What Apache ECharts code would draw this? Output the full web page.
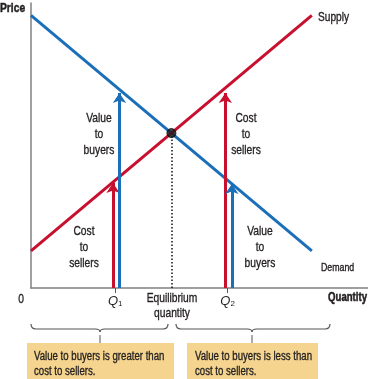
<!DOCTYPE html>
<html>
<head>
<meta charset="utf-8">
<script src="https://cdn.jsdelivr.net/npm/echarts@6/dist/echarts.min.js"></script>
<style>html,body{margin:0;padding:0;background:#fff;}#c{width:368px;height:379px;}</style>
</head>
<body>
<div id="c"></div>
<script>
// ---- data (economic units: quantity on x, price on y) ----
const demandQ = [0, 10];
const demandP = [11, 1.5];
const supplyQ = [0, 10];
const supplyP = [1.5, 11];
const equilibrium = [5, 6.25];
const arrowQ = [3, 7];                 // Q1, Q2
const valueToBuyers = [7.87, 4.2];     // arrow tops under the demand curve at Q1, Q2
const costToSellers = [4.24, 7.87];    // arrow tops under the supply curve at Q1, Q2
const qTickLabels = ['1', '2'];        // subscripts of Q

const FONT = "'Liberation Sans',Arial,sans-serif";
const TXT = '#231f20';
const BLUE = '#1b6fb8';
const RED = '#c8102e';
const SX = 0.76; // condensed look

const chart = echarts.init(document.getElementById('c'), null, {renderer: 'canvas'});

const arrowData = [];
arrowQ.forEach((q, i) => {
  arrowData.push({coords: [[q - 0.08, 0], [q - 0.08, costToSellers[i]]], lineStyle: {color: RED}});
  arrowData.push({coords: [[q + 0.15, 0], [q + 0.15, valueToBuyers[i]]], lineStyle: {color: BLUE}});
});

function txt(x, y, text, opts, sx) {
  return {
    type: 'text', x: x, y: y, scaleX: sx || SX, silent: true,
    style: Object.assign({text: text, fontFamily: FONT, fontSize: 13.5, fontWeight: 'normal', fill: TXT, stroke: TXT, lineWidth: 0.35,
      align: 'center', verticalAlign: 'middle', lineHeight: 16}, opts || {})
  };
}
const BR = {stroke: '#555', lineWidth: 1.2, fill: null};
function brace(x1, x2, xc, y0, y1) {
  return [
    {type: 'bezierCurve', silent: true, shape: {x1: x1, y1: y0, cpx1: x1, cpy1: y1, x2: x1 + 5, y2: y1}, style: BR},
    {type: 'line', silent: true, shape: {x1: x1 + 5, y1: y1, x2: xc - 5, y2: y1}, style: BR},
    {type: 'bezierCurve', silent: true, shape: {x1: xc - 5, y1: y1, cpx1: xc, cpy1: y1, x2: xc, y2: y1 + 3}, style: BR},
    {type: 'bezierCurve', silent: true, shape: {x1: xc, y1: y1 + 3, cpx1: xc, cpy1: y1, x2: xc + 5, y2: y1}, style: BR},
    {type: 'line', silent: true, shape: {x1: xc + 5, y1: y1, x2: x2 - 5, y2: y1}, style: BR},
    {type: 'bezierCurve', silent: true, shape: {x1: x2 - 5, y1: y1, cpx1: x2, cpy1: y1, x2: x2, y2: y0}, style: BR},
    {type: 'line', silent: true, shape: {x1: xc, y1: y1 + 6, x2: xc, y2: 343}, style: {stroke: '#555', lineWidth: 1}}
  ];
}

const option = {
  animation: false,
  grid: {left: 31, right: 0, top: 3, bottom: 91},
  xAxis: {
    type: 'value', min: 0, max: 12,
    axisLine: {show: true, lineStyle: {color: '#808080', width: 1.5}},
    axisTick: {show: true, customValues: arrowQ, length: 5, inside: false, lineStyle: {color: '#555', width: 1}},
    axisLabel: {
      show: true, customValues: arrowQ, margin: 6,
      formatter: function (v) { return '{q|Q}{s|' + qTickLabels[arrowQ.indexOf(v)] + '}'; },
      rich: {
        q: {fontFamily: FONT, fontStyle: 'italic', fontSize: 13, color: TXT},
        s: {fontFamily: FONT, fontSize: 8, color: TXT, verticalAlign: 'bottom', padding: [6, 0, 0, 0]}
      }
    },
    splitLine: {show: false}
  },
  yAxis: {
    type: 'value', min: 0, max: 11.5,
    axisLine: {show: true, lineStyle: {color: '#808080', width: 1.5}},
    axisTick: {show: false}, axisLabel: {show: false}, splitLine: {show: false}
  },
  series: [
    {type: 'line', data: demandQ.map((q, i) => [q, demandP[i]]), showSymbol: false, lineStyle: {color: BLUE, width: 3}, z: 3},
    {type: 'line', data: supplyQ.map((q, i) => [q, supplyP[i]]), showSymbol: false, lineStyle: {color: RED, width: 3}, z: 3},
    {type: 'lines', coordinateSystem: 'cartesian2d', data: arrowData, symbol: ['none', 'arrow'], symbolSize: [7, 10],
      lineStyle: {width: 3, opacity: 1}, z: 4},
    {type: 'lines', coordinateSystem: 'cartesian2d', data: [{coords: [[equilibrium[0], 0], equilibrium]}], symbol: 'none',
      lineStyle: {color: '#111', width: 1.5, type: [1.5, 2], opacity: 1}, z: 2},
    {type: 'scatter', data: [equilibrium], symbolSize: 9, itemStyle: {color: '#1a1a1a', borderColor: '#000', borderWidth: 1}, z: 5}
  ],
  graphic: [
    txt(0, 8, 'Price', {fontWeight: 'bold', fontSize: 13, align: 'left', lineWidth: 0.5}, 0.79),
    txt(318, 17, 'Supply', {align: 'left', fontSize: 13}, 0.78),
    txt(321, 268, 'Demand', {align: 'left', fontSize: 11}, 0.8),
    txt(367, 298, 'Quantity', {align: 'right', fontWeight: 'bold', fontSize: 12, lineWidth: 0.5}, 0.8),
    txt(21, 299, '0'),
    txt(172, 306, 'Equilibrium\nquantity', {lineHeight: 15}),
    txt(99, 134, 'Value\nto\nbuyers'),
    txt(246, 134, 'Cost\nto\nsellers'),
    txt(84, 247, 'Cost\nto\nsellers'),
    txt(260, 247, 'Value\nto\nbuyers'),
    {type: 'rect', silent: true, shape: {x: 27, y: 343, width: 147, height: 40}, style: {fill: '#f4d48e'}},
    {type: 'rect', silent: true, shape: {x: 187, y: 343, width: 131, height: 40}, style: {fill: '#f4d48e'}},
    txt(34, 364.5, 'Value to buyers is greater than\ncost to sellers.', {align: 'left', lineHeight: 15, fontSize: 12.5}, 0.77),
    txt(195, 364.5, 'Value to buyers is less than\ncost to sellers.', {align: 'left', lineHeight: 15, fontSize: 12.5}, 0.77)
  ].concat(brace(31, 168, 100, 324, 329), brace(176, 330, 252, 324, 329))
};
chart.setOption(option);
</script>
</body>
</html>
